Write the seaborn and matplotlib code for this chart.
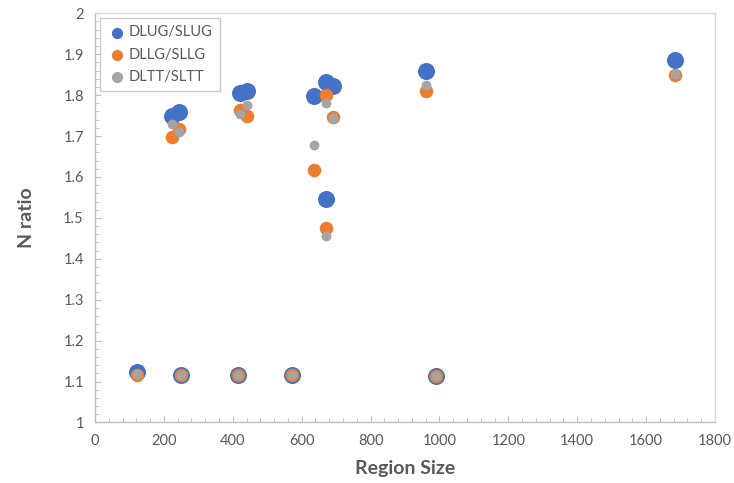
import pandas as pd
import matplotlib
matplotlib.use("Agg")
import matplotlib.pyplot as plt
import seaborn as sns
from matplotlib.ticker import MultipleLocator, FuncFormatter

# region sizes shared by all three ratios
region_size = [121, 225, 245, 249, 414, 420, 440, 571, 635, 670, 670, 690, 961, 989, 1684]
dlug_slug = [1.123, 1.748, 1.758, 1.116, 1.117, 1.805, 1.810, 1.115, 1.797, 1.832, 1.547, 1.823, 1.858, 1.114, 1.886]
dllg_sllg = [1.117, 1.698, 1.718, 1.116, 1.117, 1.763, 1.750, 1.115, 1.617, 1.800, 1.475, 1.747, 1.810, 1.114, 1.848]
dltt_sltt = [1.118, 1.730, 1.710, 1.116, 1.117, 1.755, 1.777, 1.115, 1.677, 1.780, 1.455, 1.745, 1.824, 1.114, 1.852]

series_names = ["DLUG/SLUG", "DLLG/SLLG", "DLTT/SLTT"]
colors = ["#4472C4", "#ED7D31", "#A5A5A5"]
marker_sizes = [150, 95, 50]

sns.set_style("white")
plt.rcParams["font.family"] = ["Lato", "DejaVu Sans"]

df = pd.DataFrame({"size": region_size, "DLUG/SLUG": dlug_slug,
                   "DLLG/SLLG": dllg_sllg, "DLTT/SLTT": dltt_sltt})

fig = plt.figure(figsize=(7.34, 4.83), dpi=100)
ax = fig.add_axes([0.1294, 0.1253, 0.8447, 0.8472])

for name, c, s in zip(series_names, colors, marker_sizes):
    sns.scatterplot(data=df, x="size", y=name, color=c, s=s, linewidth=0,
                    label=name, ax=ax, zorder=3)

ax.set_xlim(0, 1800)
ax.set_ylim(1, 2)
ax.xaxis.set_major_locator(MultipleLocator(200))
ax.xaxis.set_minor_locator(MultipleLocator(40))
ax.yaxis.set_major_locator(MultipleLocator(0.1))
ax.yaxis.set_minor_locator(MultipleLocator(0.02))
ax.yaxis.set_major_formatter(FuncFormatter(lambda v, p: f"{v:.1f}".rstrip("0").rstrip(".")))

grey_txt = "#595959"
for sp in ax.spines.values():
    sp.set_color("#D9D9D9")
    sp.set_linewidth(1)
ax.spines["left"].set_color("#BFBFBF")
ax.spines["bottom"].set_color("#BFBFBF")

ax.tick_params(which="major", direction="in", length=4, color="#BFBFBF",
               labelsize=10.5, labelcolor=grey_txt, pad=8)
ax.tick_params(which="minor", direction="in", length=3, color="#BFBFBF")
ax.tick_params(axis="x", which="both", top=False, bottom=True)
ax.tick_params(axis="y", which="both", right=False, left=True)

ax.set_xlabel("Region Size", fontsize=14, fontweight="bold", color=grey_txt, labelpad=9)
ax.set_ylabel("N ratio", fontsize=14, fontweight="bold", color=grey_txt, labelpad=20)

leg = ax.legend(loc="upper left", bbox_to_anchor=(0.008, 0.988), borderaxespad=0,
                frameon=True, fancybox=False, fontsize=10.5, handletextpad=0.1,
                labelspacing=0.55, borderpad=0.5, handlelength=1.4)
leg.get_frame().set_edgecolor("#BFBFBF")
leg.get_frame().set_linewidth(1)
for h in leg.legend_handles:
    h.set_sizes([65])
for t in leg.get_texts():
    t.set_color(grey_txt)

fig.savefig("out.png", dpi=100)
